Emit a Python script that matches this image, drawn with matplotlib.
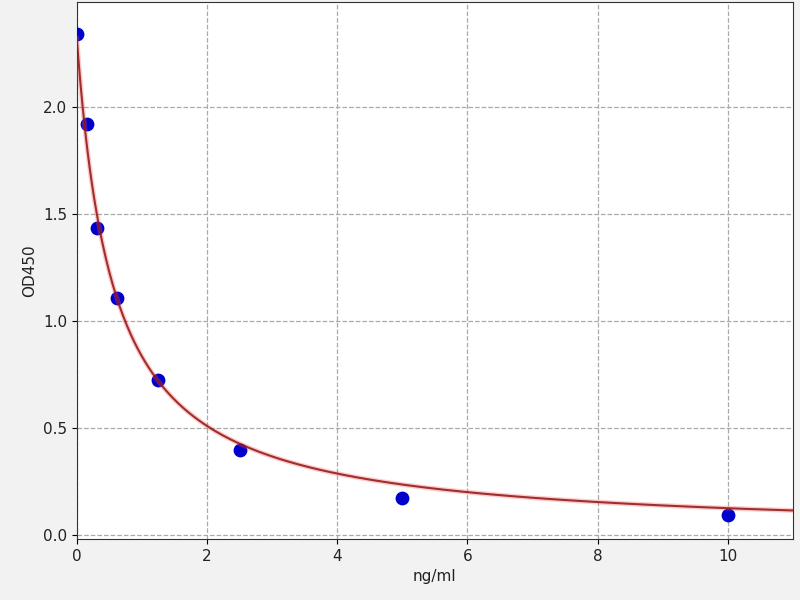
import numpy as np
import matplotlib
matplotlib.use("Agg")
import matplotlib.pyplot as plt

# standard concentrations (ng/ml) and measured OD450
conc = [0, 0.156, 0.312, 0.625, 1.25, 2.5, 5, 10]
od450 = [2.34, 1.92, 1.435, 1.105, 0.72, 0.393, 0.172, 0.093]

# fitted curve parameters (4PL: top, bottom, ec50, slope)
fit_top = 2.32
fit_bottom = 0.0
fit_c = 0.56
fit_b = 1.0

x_fit = np.linspace(0, 11, 400)
y_fit = fit_bottom + (fit_top - fit_bottom) / (1 + (x_fit / fit_c) ** fit_b)

fig = plt.figure(figsize=(8, 6), dpi=100, facecolor='#f2f2f2')
ax = fig.add_axes([0.096, 0.102, 0.895, 0.895])

ax.scatter(conc, od450, s=80, color='#0000cc', zorder=3)
ax.plot(x_fit, y_fit, color='#ff5555', lw=3.5, alpha=0.3, zorder=4)
ax.plot(x_fit, y_fit, color='#8e1414', lw=1.5, alpha=0.85, zorder=5)

ax.set_xlim(0, 11)
ax.set_ylim(-0.02, 2.49)
ax.set_xticks([0, 2, 4, 6, 8, 10])
ax.set_yticks([0.0, 0.5, 1.0, 1.5, 2.0])
ax.grid(True, linestyle='--', color='#aaaaaa', lw=0.9)
ax.set_axisbelow(True)

ax.set_xlabel('ng/ml', fontsize=11, color='#222222')
ax.set_ylabel('OD450', fontsize=11, color='#222222')
ax.tick_params(labelsize=11, labelcolor='#222222')
for sp in ax.spines.values():
    sp.set_color('#333333')

plt.savefig('out.png', dpi=100, facecolor=fig.get_facecolor())
